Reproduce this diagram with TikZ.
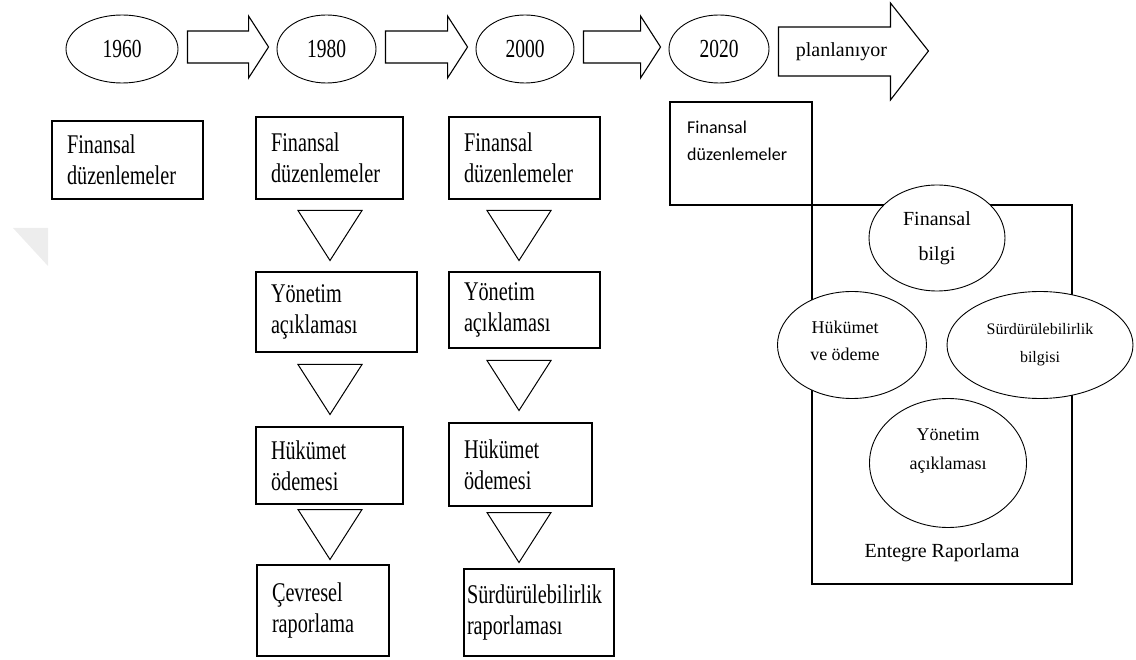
\documentclass[tikz,border=0pt]{standalone}
\usepackage{fontspec}
\setmainfont{Liberation Serif}
\newfontfamily\narrowserif{Liberation Serif}[FakeStretch=0.75]
\newfontfamily\calib{Carlito}
\usetikzlibrary{shapes.geometric, calc}

\begin{document}
\begin{tikzpicture}[x=1pt, y=-1pt, line join=miter,
  stagebox/.style={draw, line width=1.1pt, rectangle, anchor=north west, outer sep=0pt, align=left, inner xsep=15pt, font={\narrowserif\fontsize{27}{31}\selectfont}},
  yearnode/.style={draw, ellipse, line width=0.9pt, minimum height=68pt, inner sep=0pt, font={\narrowserif\fontsize{26}{30}\selectfont}},
  infonode/.style={draw, ellipse, fill=white, line width=0.9pt, inner sep=0pt, align=center},
  downtri/.style={draw, line width=1pt},
  blockarr/.style={draw, line width=1.1pt}]

\useasboundingbox (0,0) rectangle (1136,660);

% faint mark on the left
\fill[black!7] (13,228) -- (48,228) -- (48,266) -- cycle;

% Timeline
\node (e60) [yearnode, minimum width=112pt] at (122,49) {1960};
\node (e80) [yearnode, minimum width=99pt] at (326.5,49) {1980};
\node (e00) [yearnode, minimum width=98pt] at (525,49) {2000};
\node (e20) [yearnode, minimum width=100pt] at (719,49) {2020};

\foreach \a/\b in {e60/e80, e80/e00, e00/e20}
  \draw[blockarr] ($(\a.east)+(9,-18)$) -- ($(\b.west)+(-28,-18)$) -- ($(\b.west)+(-28,-33)$)
    -- ($(\b.west)+(-8,-2)$) -- ($(\b.west)+(-28,29)$) -- ($(\b.west)+(-28,14)$)
    -- ($(\a.east)+(9,14)$) -- cycle;

% Planned step
\node (plan) [font={\fontsize{20}{24}\selectfont}, inner sep=0pt, anchor=base] at ($(e20.east)+(72,8)$) {planlanıyor};
\draw[blockarr] ($(e20.east)+(9,-22)$) -- ($(e20.east)+(121,-22)$) -- ($(e20.east)+(121,-46)$)
  -- ($(e20.east)+(159,2)$) -- ($(e20.east)+(121,51)$) -- ($(e20.east)+(121,27)$)
  -- ($(e20.east)+(9,27)$) -- cycle;

% 1960
\node (f1) [stagebox, text width=121pt, minimum height=78pt] at (52,121) {Finansal\\düzenlemeler};

% 1980
\node (f2) [stagebox, text width=117pt, minimum height=82pt] at (256,117) {Finansal\\düzenlemeler};
\node (y2) [stagebox, text width=131pt, minimum height=80pt] at (256,272) {Yönetim\\açıklaması};
\node (h2) [stagebox, text width=117pt, minimum height=77pt] at (256,427) {Hükümet\\ödemesi};
\node (c2) [stagebox, text width=102pt, minimum height=91pt] at (257,565) {Çevresel\\raporlama};

% 2000
\node (f3) [stagebox, text width=121pt, minimum height=82pt] at (449,117) {Finansal\\düzenlemeler};
\node (y3) [stagebox, text width=121pt, minimum height=76pt] at (449,272) {Yönetim\\açıklaması};
\node (h3) [stagebox, text width=113pt, minimum height=83pt] at (449,423) {Hükümet\\ödemesi};
\node (s3) [stagebox, inner xsep=3pt, text width=144pt, minimum height=87pt] at (464,569) {Sürdürülebilirlik\\raporlaması};

% Triangles between the steps
\coordinate (col2) at (330,0);
\coordinate (col3) at (519,0);
\foreach \u/\l/\c in {f2/y2/col2, y2/h2/col2, h2/c2/col2, f3/y3/col3, y3/h3/col3, h3/s3/col3}
  \draw[downtri] ($(\u.south -| \c)!0.5!(\l.north -| \c)$) +(-32,-25) -- +(32,-25) -- +(0,25) -- cycle;

% 2020
\node (f4) [draw, line width=1.1pt, anchor=north west, outer sep=0pt, minimum width=142pt, minimum height=103pt] at (670,102) {};
\node (f4txt) [anchor=north west, inner sep=0pt, align=left, font={\calib\fontsize{18}{27}\selectfont}] at ($(f4.north west)+(17,19)$) {Finansal\\düzenlemeler};
\node (er) [draw, line width=1.1pt, anchor=north west, outer sep=0pt, minimum width=260pt, minimum height=379pt] at (f4.south east) {};

\node (fb) [infonode, minimum width=136pt, minimum height=106pt, font={\fontsize{20}{35}\selectfont}] at (937,238) {Finansal\\bilgi};
\node (hv) [infonode, minimum width=149pt, minimum height=107pt,
  label={[align=center, xshift=-7pt, yshift=4pt, font={\fontsize{18}{27}\selectfont}]center:Hükümet\\ve ödeme}] at (852,345) {};
\node (sb) [infonode, minimum width=186pt, minimum height=107pt, font={\fontsize{16}{28}\selectfont}] at (1040,345) {Sürdürülebilirlik\\bilgisi};
\node (ya) [infonode, minimum width=157pt, minimum height=129pt,
  label={[align=center, yshift=12pt, font={\fontsize{18}{29}\selectfont}]center:Yönetim\\açıklaması}] at (948,463) {};
\node (ertxt) [font={\fontsize{20}{24}\selectfont}] at (942,553) {Entegre Raporlama};

\end{tikzpicture}
\end{document}
